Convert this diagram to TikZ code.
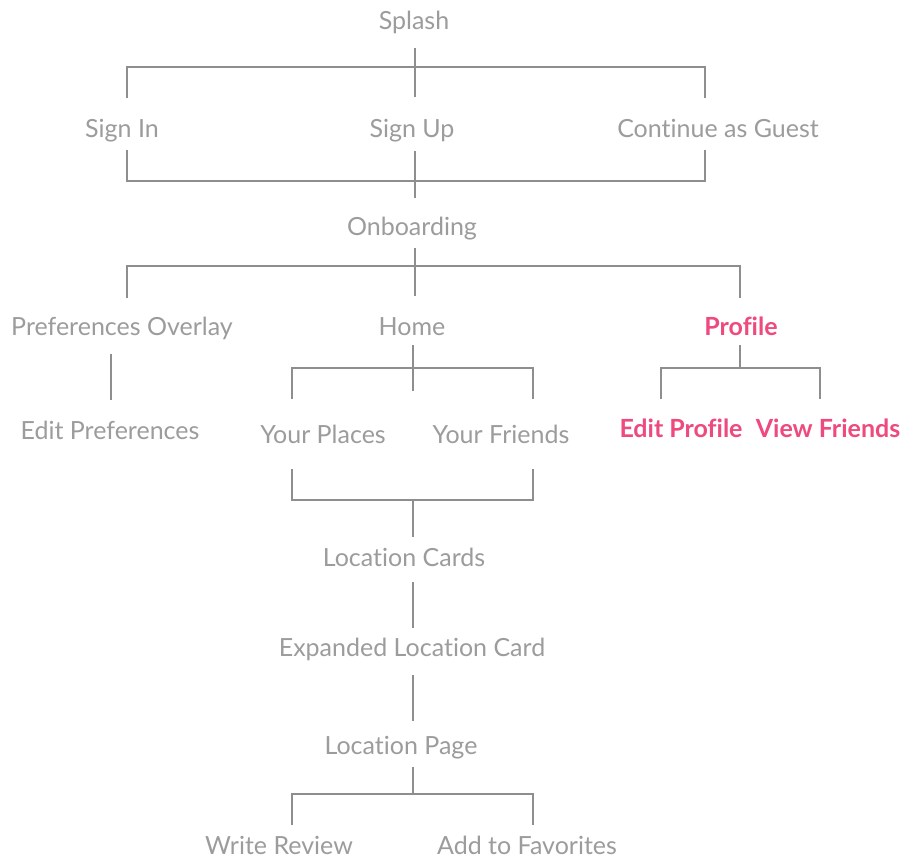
\documentclass[tikz,border=0pt]{standalone}
\usepackage{fontspec}
\setmainfont{Lato}[Ligatures=NoCommon]
\definecolor{txtgray}{HTML}{9C9C9C}
\definecolor{lngray}{HTML}{8E8E8E}
\definecolor{pinkc}{HTML}{EE4A7E}
\tikzset{
  lbl/.style={font=\fontsize{25}{28}\selectfont, text=txtgray, inner sep=0pt, anchor=mid, yshift=-6.5pt},
  hot/.style={font=\fontsize{25}{28}\selectfont\bfseries, text=pinkc, inner sep=0pt, anchor=mid, yshift=-6.5pt},
  ln/.style={draw=lngray, line width=1.2pt}
}
\begin{document}
\begin{tikzpicture}[x=1pt,y=-1pt]
\useasboundingbox[fill=white] (0,0) rectangle (908,861);
% nodes
\node[lbl] (splash) at (414,20) {Splash};
\node[lbl] (signin) at (122,128) {Sign In};
\node[lbl] (signup) at (412,128) {Sign Up};
\node[lbl] (guest) at (718,128) {Continue as Guest};
\node[lbl] (onb) at (412,226) {Onboarding};
\node[lbl] (pref) at (122,326) {Preferences Overlay};
\node[lbl] (home) at (412,326) {Home};
\node[hot] (profile) at (741,326) {Profile};
\node[lbl] (editpref) at (110,430) {Edit Preferences};
\node[lbl] (places) at (323,434) {Your Places};
\node[lbl] (friends) at (501,434) {Your Friends};
\node[hot] (editprof) at (681,428) {Edit Profile};
\node[hot] (viewfr) at (828,428) {View Friends};
\node[lbl] (lcards) at (404,557) {Location Cards};
\node[lbl] (elc) at (412,647) {Expanded Location Card};
\node[lbl] (lpage) at (401,745) {Location Page};
\node[lbl] (review) at (279,845) {Write Review};
\node[lbl] (fav) at (527,845) {Add to Favorites};
% connector points
\coordinate (splashB) at (415,48);
\coordinate (splashJ) at (415,97);
\coordinate (signinT) at (127,98);
\coordinate (guestT) at (705,98);
\coordinate (topbar) at (705,67);
\coordinate (signinB) at (127,150);
\coordinate (guestB) at (705,150);
\coordinate (midbar) at (705,181);
\coordinate (signupB) at (415,151);
\coordinate (onbT) at (415,198);
\coordinate (onbB) at (415,248);
\coordinate (onbJ) at (415,296);
\coordinate (prefT) at (127,298);
\coordinate (profT) at (740,298);
\coordinate (onbbar) at (740,266);
\coordinate (prefB) at (111,354);
\coordinate (editprefT) at (111,400);
\coordinate (homeB) at (413,345);
\coordinate (homeJ) at (413,391);
\coordinate (placesT) at (292,399);
\coordinate (friendsT) at (533,399);
\coordinate (homebar) at (533,368);
\coordinate (profB) at (740,345);
\coordinate (profJ) at (740,368);
\coordinate (editprofT) at (661,399);
\coordinate (viewfrT) at (820,399);
\coordinate (profbar) at (820,368);
\coordinate (placesB) at (292,469);
\coordinate (friendsB) at (533,469);
\coordinate (ypbar) at (533,500);
\coordinate (ypJ) at (413,500);
\coordinate (lcardsT) at (413,537);
\coordinate (lcardsB) at (413,582);
\coordinate (elcT) at (413,628);
\coordinate (elcB) at (413,675);
\coordinate (lpageT) at (413,721);
\coordinate (lpageB) at (413,767);
\coordinate (lpageJ) at (413,794);
\coordinate (reviewT) at (292,825);
\coordinate (favT) at (533,825);
\coordinate (lpbar) at (533,794);
% connectors
\draw[ln] (splashB) -- (splashJ);
\draw[ln] (signinT) |- (topbar) -- (guestT);
\draw[ln] (signinB) |- (midbar) -- (guestB);
\draw[ln] (signupB) -- (onbT);
\draw[ln] (onbB) -- (onbJ);
\draw[ln] (prefT) |- (onbbar) -- (profT);
\draw[ln] (prefB) -- (editprefT);
\draw[ln] (homeB) -- (homeJ);
\draw[ln] (placesT) |- (homebar) -- (friendsT);
\draw[ln] (profB) -- (profJ);
\draw[ln] (editprofT) |- (profbar) -- (viewfrT);
\draw[ln] (placesB) |- (ypbar) -- (friendsB);
\draw[ln] (ypJ) -- (lcardsT);
\draw[ln] (lcardsB) -- (elcT);
\draw[ln] (elcB) -- (lpageT);
\draw[ln] (lpageB) -- (lpageJ);
\draw[ln] (reviewT) |- (lpbar) -- (favT);
\end{tikzpicture}
\end{document}
